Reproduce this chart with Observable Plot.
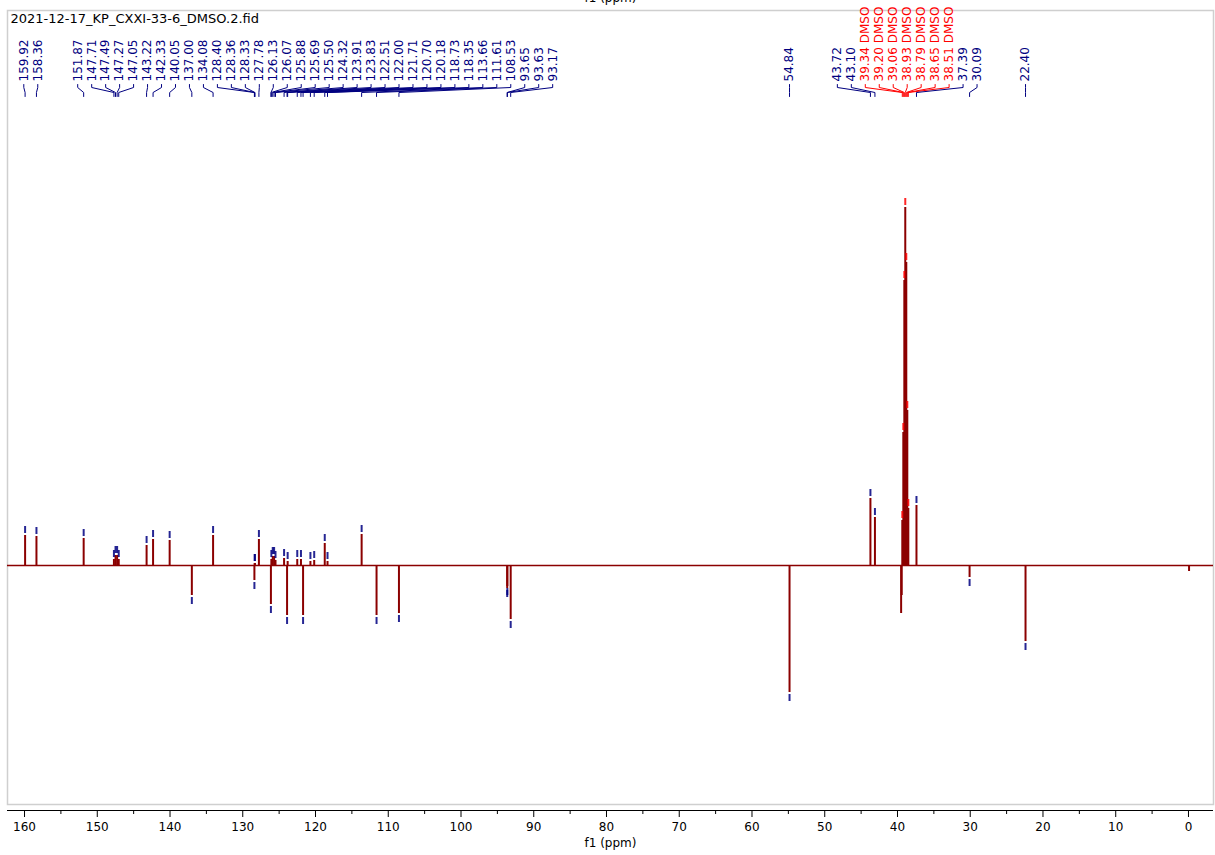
<!DOCTYPE html>
<html><head><meta charset="utf-8">
<script src="https://cdn.jsdelivr.net/npm/d3@7"></script>
<script src="https://cdn.jsdelivr.net/npm/@observablehq/plot@0.6"></script>
<style>body{margin:0;background:#fff;} svg{display:block}</style>
</head><body><div id="chart"></div>
<script>
// ---- data ----
const title = "2021-12-17_KP_CXXI-33-6_DMSO.2.fid";
const axisTitle = "f1 (ppm)";
const peakPpm = [159.92, 158.36, 151.87, 147.71, 147.49, 147.27, 147.05, 143.22, 142.33, 140.05,
  137.00, 134.08, 128.40, 128.36, 128.33, 127.78, 126.13, 126.07, 125.88, 125.69,
  125.50, 124.32, 123.91, 123.83, 122.51, 122.00, 121.71, 120.70, 120.18, 118.73,
  118.35, 113.66, 111.61, 108.53, 93.65, 93.63, 93.17, 54.84, 43.72, 43.10,
  39.34, 39.20, 39.06, 38.93, 38.79, 38.65, 38.51, 37.39, 30.09, 22.40];
const peakHeight = [30, 29, 27, 6, 10, 10, 6, 20, 26, 25,
  -30, 30, -15, 2, 2, 26, -39, 6, 9, 9,
  5, 7, -50, 4, 6, 6, -50, 4, 5, 22,
  4, 31, -50, -48, -23, -21, -54, -127, 67, 48,
  45, 133, 285, 358, 303, 155, 57, 60, -12, -76];
const peakTag = ["", "", "", "", "", "", "", "", "", "",
  "", "", "", "", "", "", "", "", "", "",
  "", "", "", "", "", "", "", "", "", "",
  "", "", "", "", "", "", "", "", "", "",
  "DMSO", "DMSO", "DMSO", "DMSO", "DMSO", "DMSO", "DMSO", "", "", ""];
// unlabelled features (phase dip beside DMSO, tiny dip near 0 ppm)
const otherPpm = [39.50, 39.42, -0.08];
const otherHeight = [-48, -30, -6];
const majorTicks = [160, 150, 140, 130, 120, 110, 100, 90, 80, 70, 60, 50, 40, 30, 20, 10, 0];
const minorTicks = [155, 145, 135, 125, 115, 105, 95, 85, 75, 65, 55, 45, 35, 25, 15, 5];

// ---- layout ----
const W = 1215, H = 855, mL = 7, mR = 2, mT = 10, mB = 45;
const xDomain = [162.34, -3.44];
const yDomain = [-245, 555];
const xs = Plot.scale({x: {domain: xDomain, range: [mL, W - mR]}});
const ys = Plot.scale({y: {domain: yDomain, range: [H - mB, mT]}});
const yAt = px => ys.invert(px);

const navy = "#000080", red = "#ff0000", wine = "#8b0000";
const spacing = 13.97, maxShift = 37;

const labels = peakPpm.map((p, i) => ({ppm: p, h: peakHeight[i], tag: peakTag[i], ideal: xs.apply(p)}));
// cluster layout of labels
const clusters = [];
function place(c) {
  const cs = c.idx.map((k, j) => labels[k].ideal - j * spacing);
  const hi = d3.max(cs), lo = d3.min(cs);
  c.start = Math.max((hi + lo) / 2, hi - maxShift);
}
for (let i = 0; i < labels.length; ++i) {
  const c = {idx: [i]}; place(c); clusters.push(c);
  while (clusters.length > 1) {
    const b = clusters[clusters.length - 1], a = clusters[clusters.length - 2];
    if (a.start + a.idx.length * spacing > b.start + 0.01) {
      a.idx = a.idx.concat(b.idx); clusters.pop(); place(a);
    } else break;
  }
}
for (const c of clusters) c.idx.forEach((k, j) => { labels[k].lx = xs.invert(c.start + j * spacing); });

const leaderPts = labels.flatMap((d, i) => [
  {i, x: d.lx, y: yAt(84), c: d.tag ? red : navy},
  {i, x: d.lx, y: yAt(87), c: d.tag ? red : navy},
  {i, x: d.ppm, y: yAt(92), c: d.tag ? red : navy},
  {i, x: d.ppm, y: yAt(96), c: d.tag ? red : navy}
]);
const allPeaks = labels.map(d => ({ppm: d.ppm, h: d.h}))
  .concat(otherPpm.map((p, i) => ({ppm: p, h: otherHeight[i]})));
const mark = (d, off) => yAt(ys.apply(d.h) - Math.sign(d.h) * off);

const chart = Plot.plot({
  width: W, height: H,
  marginLeft: mL, marginRight: mR, marginTop: mT, marginBottom: mB,
  x: {domain: xDomain},
  y: {domain: yDomain, axis: null},
  style: {fontFamily: "DejaVu Sans", fontSize: "12px", background: "white"},
  marks: [
    Plot.frame({stroke: "#cfcfcf", strokeWidth: 1.5, insetBottom: 6}),
    Plot.ruleY([0], {stroke: wine, strokeWidth: 1.5}),
    Plot.ruleX(allPeaks, {x: "ppm", y1: 0, y2: "h", stroke: wine, strokeWidth: 2}),
    Plot.ruleX(labels, {x: "ppm", y1: d => mark(d, 2), y2: d => mark(d, 9),
      stroke: d => d.tag ? red : navy, strokeWidth: 2, strokeOpacity: 0.85}),
    Plot.line(leaderPts, {x: "x", y: "y", z: "i", stroke: "c", strokeWidth: 1}),
    Plot.text(labels, {x: "lx", y: () => yAt(81), rotate: -90, textAnchor: "start", lineAnchor: "middle",
      text: d => d.tag ? `${d.ppm.toFixed(2)} ${d.tag}` : d.ppm.toFixed(2),
      fill: d => d.tag ? red : navy, fontSize: 12}),
    Plot.ruleY([yDomain[0]], {stroke: "black", strokeWidth: 1}),
    Plot.axisX({anchor: "bottom", ticks: majorTicks, tickSize: 7, tickPadding: 5, fontSize: 12,
      label: null, tickFormat: d => String(d)}),
    Plot.axisX({anchor: "bottom", ticks: minorTicks, tickSize: 4, label: null, tickFormat: () => ""}),
    Plot.text([axisTitle], {frameAnchor: "bottom", dy: 33, lineAnchor: "middle", fontSize: 12, fill: "black"}),
    Plot.text([axisTitle], {frameAnchor: "top", dy: -12, lineAnchor: "middle", fontSize: 12, fill: "black"}),
    Plot.text([title], {frameAnchor: "top-left", dx: 3, dy: 8, lineAnchor: "middle", textAnchor: "start",
      fontSize: 13, fill: "black"})
  ]
});
document.getElementById("chart").appendChild(chart);
</script>
</body></html>
